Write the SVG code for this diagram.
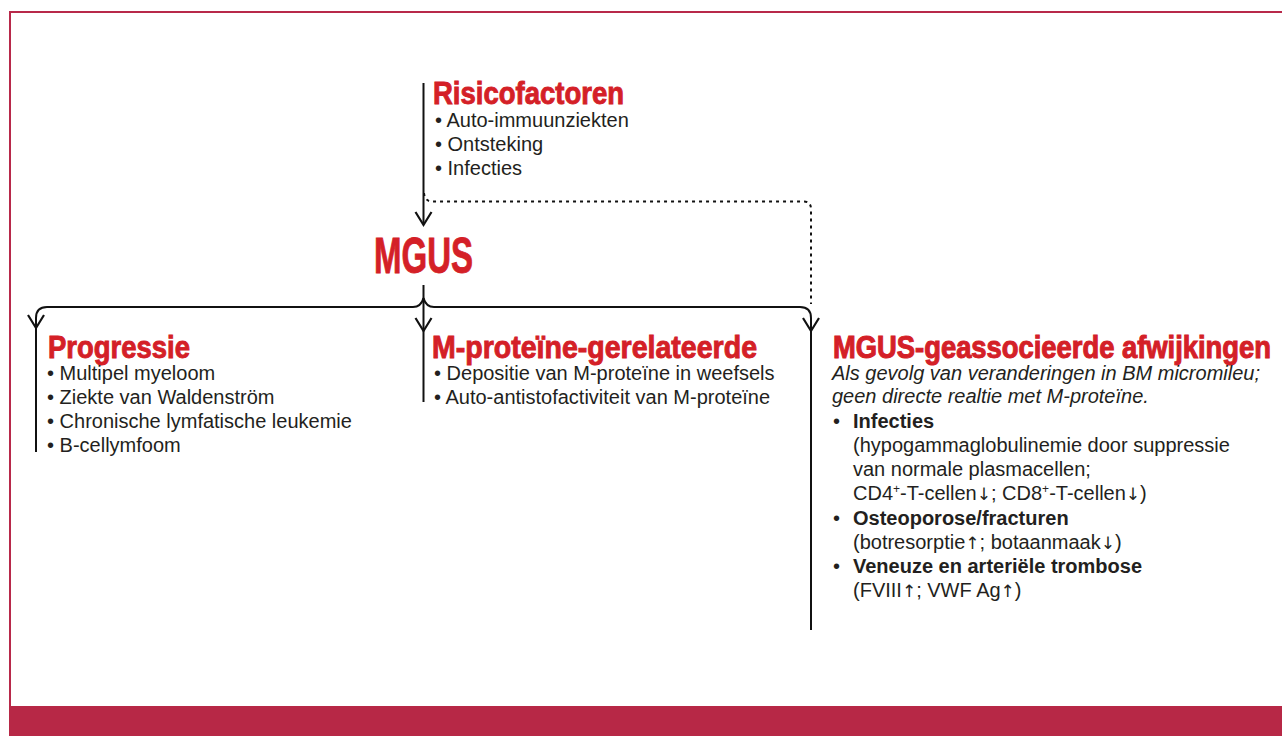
<svg xmlns="http://www.w3.org/2000/svg" width="1282" height="736" viewBox="0 0 1282 736">
<style>
.h{font-family:"Liberation Sans",Arial,sans-serif;font-weight:bold;fill:#d42027;stroke:#d42027;stroke-width:0.9}
.t{font-family:"Liberation Sans",Arial,sans-serif;font-size:20px;fill:#231f20}
.b{font-weight:bold}
.i{font-style:italic}
.ar{font-family:"DejaVu Sans",sans-serif;font-size:17px}
.c{fill:none;stroke:#111;stroke-width:2}
.d{fill:none;stroke:#111;stroke-width:2;stroke-dasharray:3 4}
.a{fill:none;stroke:#111;stroke-width:2.2;stroke-linejoin:miter}
.sup{font-size:12px}
</style>
<rect x="0" y="0" width="1282" height="736" fill="#fff"/>
<g id="frame">
<path d="M10,706 V12 H1282" fill="none" stroke="#b8294a" stroke-width="2"/>
<rect x="9" y="706" width="1273" height="30" fill="#b72846"/>
</g>
<g id="connectors">
<path class="c" d="M423.5,83 V224"/>
<path class="a" d="M415.5,212 L423.5,225 L431.5,212"/>
<path class="d" d="M424,193 Q425,201.5 432,201.5 H804 Q811,201.5 811,209 V304"/>
<path class="c" d="M423.5,285 V402"/>
<path class="c" d="M36,452 V318 Q36,307 47,307 H413 Q421,307 423.5,298"/>
<path class="c" d="M423.5,298 Q426,307 434,307 H800 Q811,307 811,318 V630"/>
<path class="a" d="M28,315 L36,328 L44,315"/>
<path class="a" d="M415.5,318 L423.5,331 L431.5,318"/>
<path class="a" d="M803,318 L811,331 L819,318"/>
</g>
<g id="risicofactoren">
<text class="h" x="433" y="104" font-size="31" textLength="191" lengthAdjust="spacingAndGlyphs">Risicofactoren</text>
<text class="t" x="435" y="127">• Auto-immuunziekten</text>
<text class="t" x="435" y="151">• Ontsteking</text>
<text class="t" x="435" y="175">• Infecties</text>
</g>
<g id="mgus">
<text class="h" x="374" y="272.5" font-size="50" textLength="99" lengthAdjust="spacingAndGlyphs">MGUS</text>
</g>
<g id="progressie">
<text class="h" x="48" y="357.5" font-size="31" textLength="142" lengthAdjust="spacingAndGlyphs">Progressie</text>
<text class="t" x="47" y="380">• Multipel myeloom</text>
<text class="t" x="47" y="404">• Ziekte van Waldenström</text>
<text class="t" x="47" y="428">• Chronische lymfatische leukemie</text>
<text class="t" x="47" y="452">• B-cellymfoom</text>
</g>
<g id="m-proteine">
<text class="h" x="432" y="357.5" font-size="31" textLength="325" lengthAdjust="spacingAndGlyphs">M-proteïne-gerelateerde</text>
<text class="t" x="434" y="380">• Depositie van M-proteïne in weefsels</text>
<text class="t" x="434" y="404">• Auto-antistofactiviteit van M-proteïne</text>
</g>
<g id="mgus-geassocieerd">
<g transform="translate(833,357.5) scale(1,1.15)">
<text class="h" x="0" y="0" font-size="27" textLength="438" lengthAdjust="spacingAndGlyphs">MGUS-geassocieerde afwijkingen</text>
</g>
<text class="t i" x="832" y="380">Als gevolg van veranderingen in BM micromileu;</text>
<text class="t i" x="832" y="403">geen directe realtie met M-proteïne.</text>
<text class="t" x="833" y="428">•</text>
<text class="t b" x="853" y="428">Infecties</text>
<text class="t" x="853" y="452">(hypogammaglobulinemie door suppressie</text>
<text class="t" x="853" y="476">van normale plasmacellen;</text>
<text class="t" x="853" y="500">CD4<tspan class="sup" dy="-7">+</tspan><tspan dy="7">-T-cellen</tspan><tspan class="ar">↓</tspan>; CD8<tspan class="sup" dy="-7">+</tspan><tspan dy="7">-T-cellen</tspan><tspan class="ar">↓</tspan>)</text>
<text class="t" x="833" y="525">•</text>
<text class="t b" x="853" y="525">Osteoporose/fracturen</text>
<text class="t" x="853" y="549">(botresorptie<tspan class="ar">↑</tspan>; botaanmaak<tspan class="ar">↓</tspan>)</text>
<text class="t" x="833" y="573">•</text>
<text class="t b" x="853" y="573">Veneuze en arteriële trombose</text>
<text class="t" x="853" y="597">(FVIII<tspan class="ar">↑</tspan>; VWF Ag<tspan class="ar">↑</tspan>)</text>
</g>
</svg>
